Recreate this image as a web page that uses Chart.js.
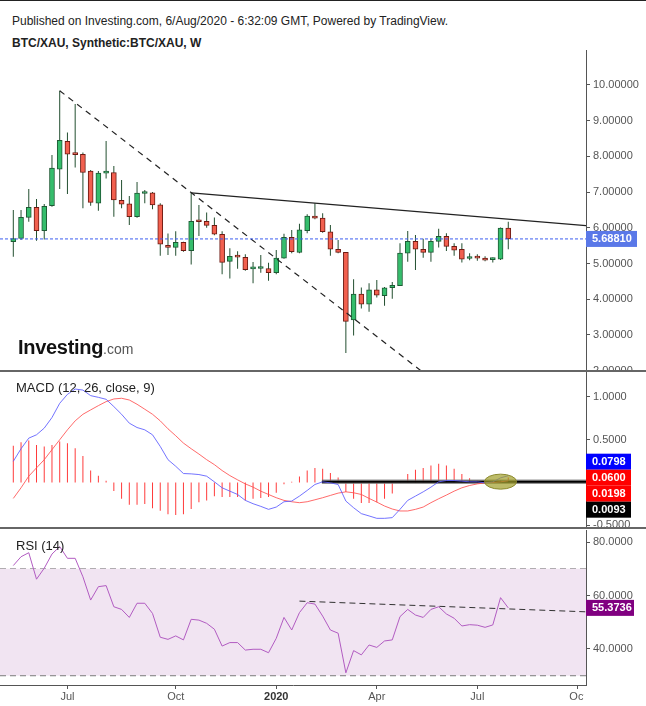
<!DOCTYPE html>
<html>
<head>
<meta charset="utf-8">
<script src="https://cdn.jsdelivr.net/npm/chart.js@4.4.0/dist/chart.umd.min.js"></script>
<style>
  body { margin: 0; background: #fff; font-family: "Liberation Sans", Arial, sans-serif; }
  #wrap { position: relative; width: 646px; height: 706px; overflow: hidden; background: #fff; }
  canvas { position: absolute; left: 0; }
  .txt { position: absolute; white-space: nowrap; color: #222; }
  .sep { position: absolute; left: 0; width: 646px; height: 2px; background: #666; }
</style>
</head>
<body>
<div id="wrap">
  <canvas id="price" width="646" height="321" style="top:50px"></canvas>
  <canvas id="macd" width="646" height="157" style="top:371px"></canvas>
  <canvas id="rsi" width="646" height="178" style="top:528px"></canvas>

  <div class="sep" style="top:0;height:1px;background:#222"></div>
  <div class="sep" style="top:370px"></div>
  <div class="sep" style="top:527px"></div>

  <div class="txt" style="left:12px;top:14px;font-size:12px;line-height:14px">Published on Investing.com, 6/Aug/2020 - 6:32:09 GMT, Powered by TradingView.</div>
  <div class="txt" style="left:12px;top:36px;font-size:12px;line-height:14px;font-weight:bold">BTC/XAU, Synthetic:BTC/XAU, W</div>
  <div class="txt" style="left:18px;top:337px;font-size:20px;line-height:20px;font-weight:bold;color:#111;letter-spacing:-0.3px">Investing<span style="font-size:14px;font-weight:normal;color:#555;letter-spacing:0">.com</span></div>
  <div class="txt" style="left:16px;top:380px;font-size:13px;line-height:15px">MACD (12, 26, close, 9)</div>
  <div class="txt" style="left:16px;top:538px;font-size:13px;line-height:15px">RSI (14)</div>
</div>

<script>
const FONT = '"Liberation Sans", Arial, sans-serif';

// weekly candles, first bar = week of 13 May 2019 (index 0)
const opens  = [5.61,5.70,6.29,6.57,5.92,6.62,7.64,8.42,8.06,8.06,7.59,6.69,7.53,7.55,6.77,6.67,6.31,6.96,6.98,6.64,
                5.51,5.45,5.59,5.36,6.18,6.18,6.07,5.82,5.06,5.20,5.17,4.85,4.86,4.86,4.74,5.15,5.73,5.31,5.92,6.33,
                6.27,5.89,5.40,5.31,3.42,4.14,3.86,4.26,4.10,4.32,4.38,5.29,5.62,5.40,5.31,5.62,5.76,5.48,5.40,5.14,
                5.17,5.15,5.11,5.12,5.99];
const highs  = [6.50,6.50,7.09,6.81,6.67,8.04,9.84,8.67,9.47,8.11,7.62,7.59,8.43,7.73,7.34,6.89,7.28,7.06,7.00,6.69,
                5.84,5.90,5.61,6.98,6.64,6.43,6.29,5.90,5.43,5.34,5.26,5.04,5.24,5.02,5.38,5.83,5.94,6.11,6.38,6.69,
                6.41,6.08,5.66,5.32,4.56,4.33,4.45,4.54,4.34,4.48,5.57,5.91,5.80,5.69,5.69,5.97,5.85,5.57,5.57,5.29,
                5.26,5.20,5.17,6.01,6.17];
const lows   = [5.19,5.66,6.17,5.64,5.67,6.59,7.09,6.95,7.69,6.55,6.62,6.48,7.38,6.31,6.55,6.08,6.28,6.69,6.52,5.22,
                5.24,5.22,5.33,4.97,5.77,6.00,5.79,4.70,4.58,4.85,4.80,4.45,4.74,4.52,4.70,5.13,5.29,5.29,5.85,6.24,
                5.86,5.22,5.29,2.49,2.98,3.74,3.65,4.05,3.82,4.01,4.37,5.05,4.82,5.16,5.05,5.45,5.35,5.22,5.03,5.09,
                5.08,5.06,5.03,5.10,5.40];
const closes = [5.70,6.29,6.57,5.92,6.60,7.67,8.45,8.06,8.05,7.55,6.71,7.53,7.55,6.78,6.66,6.31,6.97,6.99,6.64,5.54,
                5.45,5.59,5.36,6.18,6.17,6.07,5.82,5.03,5.20,5.18,4.83,4.86,4.88,4.74,5.15,5.73,5.33,5.94,6.33,6.27,
                5.89,5.40,5.31,3.38,4.14,3.86,4.26,4.11,4.32,4.39,5.29,5.62,5.40,5.31,5.62,5.76,5.48,5.37,5.12,5.15,
                5.15,5.09,5.13,5.99,5.6881];
const priceTicks = [2, 3, 4, 5, 6, 7, 8, 9, 10];
const descLine   = [{x: 6, y: 9.84}, {x: 54, y: 1.78}];
const resistLine = [{x: 23, y: 6.98}, {x: 74.05, y: 6.06}];

const macdLine = [0.248,0.395,0.519,0.558,0.636,0.760,0.926,1.031,1.093,1.081,1.016,0.996,0.973,0.888,0.798,0.694,0.643,0.616,0.558,0.422,
                  0.267,0.190,0.105,0.101,0.093,0.074,0.008,-0.062,-0.101,-0.140,-0.209,-0.248,-0.279,-0.314,-0.287,-0.225,-0.217,-0.159,-0.093,-0.023,
                  0.008,-0.004,-0.023,-0.217,-0.295,-0.364,-0.391,-0.419,-0.419,-0.411,-0.314,-0.209,-0.159,-0.109,-0.054,0.008,0.023,0.023,0.016,0.008,
                  0.008,-0.004,0.008,0.054,0.0798];
const signalLine = [-0.186,-0.062,0.074,0.171,0.267,0.384,0.500,0.616,0.721,0.798,0.849,0.899,0.946,0.977,0.985,0.965,0.915,0.857,0.798,0.721,
                    0.628,0.547,0.461,0.395,0.333,0.267,0.209,0.140,0.081,0.031,-0.016,-0.054,-0.101,-0.140,-0.178,-0.209,-0.225,-0.236,-0.225,-0.202,
                    -0.178,-0.151,-0.124,-0.109,-0.120,-0.140,-0.186,-0.229,-0.275,-0.310,-0.333,-0.333,-0.314,-0.287,-0.236,-0.190,-0.147,-0.101,-0.062,-0.035,
                    -0.016,-0.004,0.000,0.008,0.0198];
const histogram = [0.43,0.47,0.49,0.44,0.42,0.44,0.48,0.46,0.40,0.31,
                   0.14,0.08,0.02,-0.10,-0.19,-0.26,-0.26,-0.25,-0.30,-0.33,
                   -0.37,-0.38,-0.37,-0.31,-0.23,-0.21,-0.16,-0.17,-0.17,-0.17,
                   -0.21,-0.19,-0.18,-0.17,-0.12,-0.02,0.01,0.07,0.14,0.17,
                   0.16,0.11,0.06,-0.11,-0.19,-0.24,-0.24,-0.23,-0.19,-0.13,
                   0.01,0.10,0.15,0.17,0.20,0.22,0.20,0.16,0.10,0.05,
                   0.02,0.005,0.01,0.03,0.06];
const macdTicks = [-0.5, 0.5, 1];
const macdLevel = 0.0093, macdLevelFrom = 39.9;
const markWeek = 63, markValue = 0.01;

const rsiValues = [71.2,74.5,76.0,66.1,70.2,75.5,78.3,73.9,73.9,67.0,58.3,63.3,63.7,55.8,54.8,51.8,57.1,57.1,53.3,44.4,
                   43.6,44.9,43.4,51.1,50.8,49.6,47.4,41.1,42.4,42.4,39.6,39.9,39.9,38.6,44.0,51.8,47.1,53.6,57.3,56.8,
                   52.3,47.1,45.9,31.1,39.4,37.8,41.5,40.6,43.0,43.4,52.1,54.8,52.7,51.8,54.8,55.8,53.1,51.5,48.6,49.1,
                   48.9,48.1,49.0,59.2,55.3736];
const rsiTicks = [40, 60, 80];
const rsiUpper = 70, rsiLower = 30;
const rsiTrend = [{x: 37, y: 57.9}, {x: 74.05, y: 53.9}];

const timeTicks  = [7, 21, 34, 47, 60, 73];
const timeLabels = ['Jul', 'Oct', '2020', 'Apr', 'Jul', 'Oct'];

const XMIN = -1.72, XMAX = 74.05;
const idx = opens.map((_, i) => i);
const last = a => a[a.length - 1];

const UP = '#35bd6c', UP_EDGE = '#1e5a34', DOWN = '#f2604f', DOWN_EDGE = '#6e1a12', WICK = '#234f30';

function rightAxis(min, max, ticks, digits) {
  return {
    position: 'right', min: min, max: max, beginAtZero: false,
    afterBuildTicks: s => { s.ticks = ticks.map(v => ({value: v})); },
    afterFit: s => { s.width = 60; s.paddingTop = 0; s.paddingBottom = 0; },
    grid: {drawOnChartArea: false, drawTicks: true, tickLength: 4, color: '#555'},
    border: {display: true, color: '#555', width: 1},
    ticks: {padding: 3, color: '#555', font: {size: 11, family: FONT}, callback: v => v.toFixed(digits)}
  };
}
const hiddenX = {type: 'linear', min: XMIN, max: XMAX, display: false, offset: false, grid: {offset: false}};

function baseOptions(scales, padTop) {
  return {
    responsive: false, animation: false, devicePixelRatio: 1, events: [],
    layout: {padding: {top: padTop || 0, left: 0, right: 0, bottom: 0}},
    plugins: {legend: {display: false}, tooltip: {enabled: false}},
    scales: scales
  };
}

// value boxes on the right axis
function tagPlugin(id, tags) {
  return {
    id: id,
    afterDraw(chart) {
      const ctx = chart.ctx, y = chart.scales.y, left = chart.chartArea.right;
      ctx.save();
      ctx.font = 'bold 11px ' + FONT;
      ctx.textBaseline = 'middle';
      let prev = -Infinity;
      tags.forEach((t, k) => {
        let py = y.getPixelForValue(t.value);
        if (k === 0 && tags.length > 1) py -= 14;
        py = Math.max(py, prev + 16);
        prev = py;
        ctx.fillStyle = t.color;
        ctx.fillRect(left, py - 8, t.w, 16);
        ctx.fillStyle = '#fff';
        ctx.fillText(t.text, left + 6, py + 0.5);
      });
      ctx.restore();
    }
  };
}

// ---------- price ----------
new Chart(document.getElementById('price'), {
  type: 'bar',
  data: {
    datasets: [
      {type: 'line', data: [{x: XMIN, y: last(closes)}, {x: XMAX, y: last(closes)}], borderColor: '#3b5cf0',
       borderWidth: 1, borderDash: [3, 2], pointRadius: 0, order: 1},
      {type: 'line', data: descLine, borderColor: '#222', borderWidth: 1.2, borderDash: [6, 5], pointRadius: 0, order: 2},
      {type: 'line', data: resistLine, borderColor: '#222', borderWidth: 1.2, pointRadius: 0, order: 2},
      {data: idx.map(i => ({x: i, y: [opens[i], closes[i]]})),
       backgroundColor: idx.map(i => closes[i] >= opens[i] ? UP : DOWN),
       borderColor: idx.map(i => closes[i] >= opens[i] ? UP_EDGE : DOWN_EDGE),
       borderWidth: 1, borderSkipped: false, barThickness: 5, minBarLength: 2, grouped: false, order: 4},
      {data: idx.map(i => ({x: i, y: [lows[i], highs[i]]})), backgroundColor: WICK,
       barThickness: 1, inflateAmount: 0, grouped: false, order: 5}
    ]
  },
  options: baseOptions({x: hiddenX, y: rightAxis(1.989, 10.98, priceTicks, 5)}),
  plugins: [tagPlugin('priceTag', [{value: last(closes), color: '#5a78e8', text: last(closes).toFixed(5), w: 51}])]
});

// ---------- MACD ----------
const ellipsePlugin = {
  id: 'mark',
  afterDatasetsDraw(chart) {
    const ctx = chart.ctx;
    const cx = chart.scales.x.getPixelForValue(markWeek), cy = chart.scales.y.getPixelForValue(markValue);
    ctx.save();
    ctx.beginPath();
    ctx.ellipse(cx, cy, 16, 7.5, 0, 0, Math.PI * 2);
    ctx.fillStyle = 'rgba(160,158,40,0.7)';
    ctx.fill();
    ctx.strokeStyle = '#8c8a2e';
    ctx.lineWidth = 1;
    ctx.stroke();
    ctx.restore();
  }
};
new Chart(document.getElementById('macd'), {
  type: 'bar',
  data: {
    datasets: [
      {type: 'line', data: idx.map(i => ({x: i, y: macdLine[i]})), borderColor: 'rgba(90,90,255,0.85)',
       borderWidth: 1, pointRadius: 0, order: 1},
      {type: 'line', data: idx.map(i => ({x: i, y: signalLine[i]})), borderColor: 'rgba(255,80,80,0.85)',
       borderWidth: 1, pointRadius: 0, order: 2},
      {type: 'line', data: [{x: macdLevelFrom, y: macdLevel}, {x: XMAX, y: macdLevel}], borderColor: '#000',
       borderWidth: 2, pointRadius: 0, order: 3},
      {type: 'line', data: [{x: macdLevelFrom, y: macdLevel}, {x: XMAX, y: macdLevel}], borderColor: 'rgba(120,120,120,0.8)',
       borderWidth: 4.5, pointRadius: 0, order: 4},
      {data: idx.map(i => ({x: i, y: histogram[i]})), backgroundColor: '#ff3b3b', barThickness: 1,
       inflateAmount: 0, grouped: false, order: 6}
    ]
  },
  options: baseOptions({x: hiddenX, y: rightAxis(-0.532, 1.304, macdTicks, 4)}),
  plugins: [ellipsePlugin, tagPlugin('macdTags', [
    {value: last(macdLine), color: '#0000ff', text: last(macdLine).toFixed(4), w: 45},
    {value: last(histogram), color: '#ff0000', text: last(histogram).toFixed(4), w: 45},
    {value: last(signalLine), color: '#ff0000', text: last(signalLine).toFixed(4), w: 45},
    {value: macdLevel, color: '#000000', text: macdLevel.toFixed(4), w: 45}
  ])]
});

// ---------- RSI ----------
const cutLastLabel = {
  id: 'cutLast',
  afterDraw(chart) {
    const a = chart.chartArea, ctx = chart.ctx;
    ctx.save();
    ctx.fillStyle = '#fff';
    ctx.fillRect(a.right - 2.5, a.bottom + 5, 70, 30);
    ctx.restore();
  }
};
const rsiY = rightAxis(26.54, 84.49, rsiTicks, 4);
new Chart(document.getElementById('rsi'), {
  type: 'line',
  data: {
    datasets: [
      {data: [{x: XMIN, y: rsiUpper}, {x: XMAX, y: rsiUpper}], borderColor: '#7a7a7a', borderWidth: 1,
       borderDash: [6, 4], pointRadius: 0, order: 5},
      {data: [{x: XMIN, y: rsiLower}, {x: XMAX, y: rsiLower}], borderColor: '#7a7a7a', borderWidth: 1,
       borderDash: [6, 4], pointRadius: 0, fill: '-1', backgroundColor: '#f1e4f2', order: 4},
      {data: idx.map(i => ({x: i, y: rsiValues[i]})), borderColor: '#b25cc2', borderWidth: 1,
       pointRadius: 0, order: 2},
      {data: rsiTrend, borderColor: '#333', borderWidth: 1, borderDash: [6, 4], pointRadius: 0, order: 1}
    ]
  },
  options: baseOptions({
    x: {
      type: 'linear', min: XMIN, max: XMAX, offset: false,
      afterBuildTicks: s => { s.ticks = timeTicks.map(v => ({value: v})); },
      afterFit: s => { s.height = 21; s.paddingLeft = 0; s.paddingRight = 0; },
      grid: {drawOnChartArea: false, drawTicks: true, tickLength: 4, color: '#555'},
      border: {display: true, color: '#555', width: 1},
      ticks: {
        autoSkip: false, maxRotation: 0, padding: 1,
        callback: (v, i) => timeLabels[i],
        color: c => (c.tick && c.tick.value === 34) ? '#333' : '#555',
        font: c => ({size: 11, family: FONT, weight: (c.tick && c.tick.value === 34) ? 'bold' : 'normal'})
      }
    },
    y: rsiY
  }, 2),
  plugins: [cutLastLabel, tagPlugin('rsiTag', [{value: last(rsiValues), color: '#800080', text: last(rsiValues).toFixed(4), w: 48}])]
});
</script>
</body>
</html>
